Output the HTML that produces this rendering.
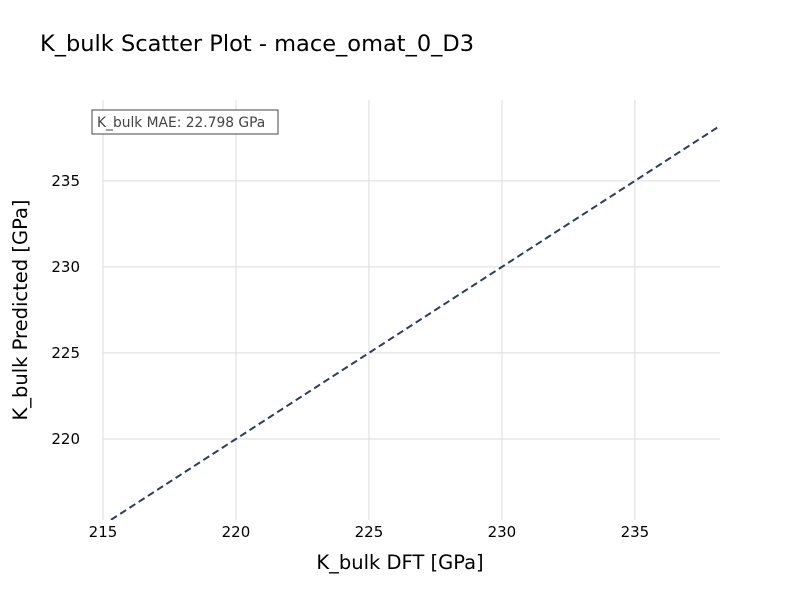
<!DOCTYPE html>
<html><head><meta charset="utf-8"><style>
body{margin:0;background:#fff;font-family:"DejaVu Sans",sans-serif}
</style></head><body>
<svg width="800" height="600" xmlns="http://www.w3.org/2000/svg" font-family="DejaVu Sans, Liberation Sans, sans-serif">
<rect width="800" height="600" fill="#fff"/>
<text x="40" y="51" font-size="22.5" fill="#000">K_bulk Scatter Plot - mace_omat_0_D3</text>
<g id="grid"></g>
<g id="marks"></g>
<rect x="92" y="110" width="186" height="24" fill="#fff" stroke="#444" stroke-width="1"/>
<text x="97" y="127" font-size="13.8" fill="#444">K_bulk MAE: 22.798 GPa</text>
<text x="400" y="569" font-size="19.5" text-anchor="middle" fill="#000">K_bulk DFT [GPa]</text>
<text x="27" y="310" font-size="19.5" text-anchor="middle" fill="#000" transform="rotate(-90 27 310)">K_bulk Predicted [GPa]</text>
</svg>
<script>
const xTicks=[215,220,225,230,235];
const yTicks=[220,225,230,235];
const lineStart=[215.3,215.3];
const lineEnd=[238.3,238.3];
const X0=103,X1=720,Y0=520,Y1=100;
const xMin=215,xMax=238.2,yMin=215.29,yMax=239.7;
const sx=v=>X0+(v-xMin)/(xMax-xMin)*(X1-X0);
const sy=v=>Y0-(v-yMin)/(yMax-yMin)*(Y0-Y1);
const NS="http://www.w3.org/2000/svg";
const grid=document.getElementById('grid'),marks=document.getElementById('marks');
function mk(t,a,p){const e=document.createElementNS(NS,t);for(const k in a)e.setAttribute(k,a[k]);p.appendChild(e);return e;}
xTicks.forEach(v=>{
const l=mk('line',{x1:sx(v),x2:sx(v),y1:Y1,y2:Y0,stroke:'#ddd','stroke-width':1},grid);


const t=mk('text',{x:sx(v),y:Y0+17,'font-size':15,'text-anchor':'middle',fill:'#000'},grid);
t.textContent=v;


});
yTicks.forEach(v=>{
const l=mk('line',{x1:X0,x2:X1,y1:sy(v),y2:sy(v),stroke:'#ddd','stroke-width':1},grid);


const t=mk('text',{x:X0-23,y:sy(v)+5,'font-size':15,'text-anchor':'end',fill:'#000'},grid);
t.textContent=v;


});
const cl=mk('clipPath',{id:'pc'},marks);mk('rect',{x:X0,y:Y1,width:X1-X0,height:Y0-Y1},cl);
const ln=mk('line',{x1:sx(lineStart[0]),y1:sy(lineStart[1]),x2:sx(lineEnd[0]),y2:sy(lineEnd[1]),stroke:'#2a3f5f','stroke-width':2,'stroke-dasharray':'7,4','clip-path':'url(#pc)'},marks);


</script>
</body></html>
